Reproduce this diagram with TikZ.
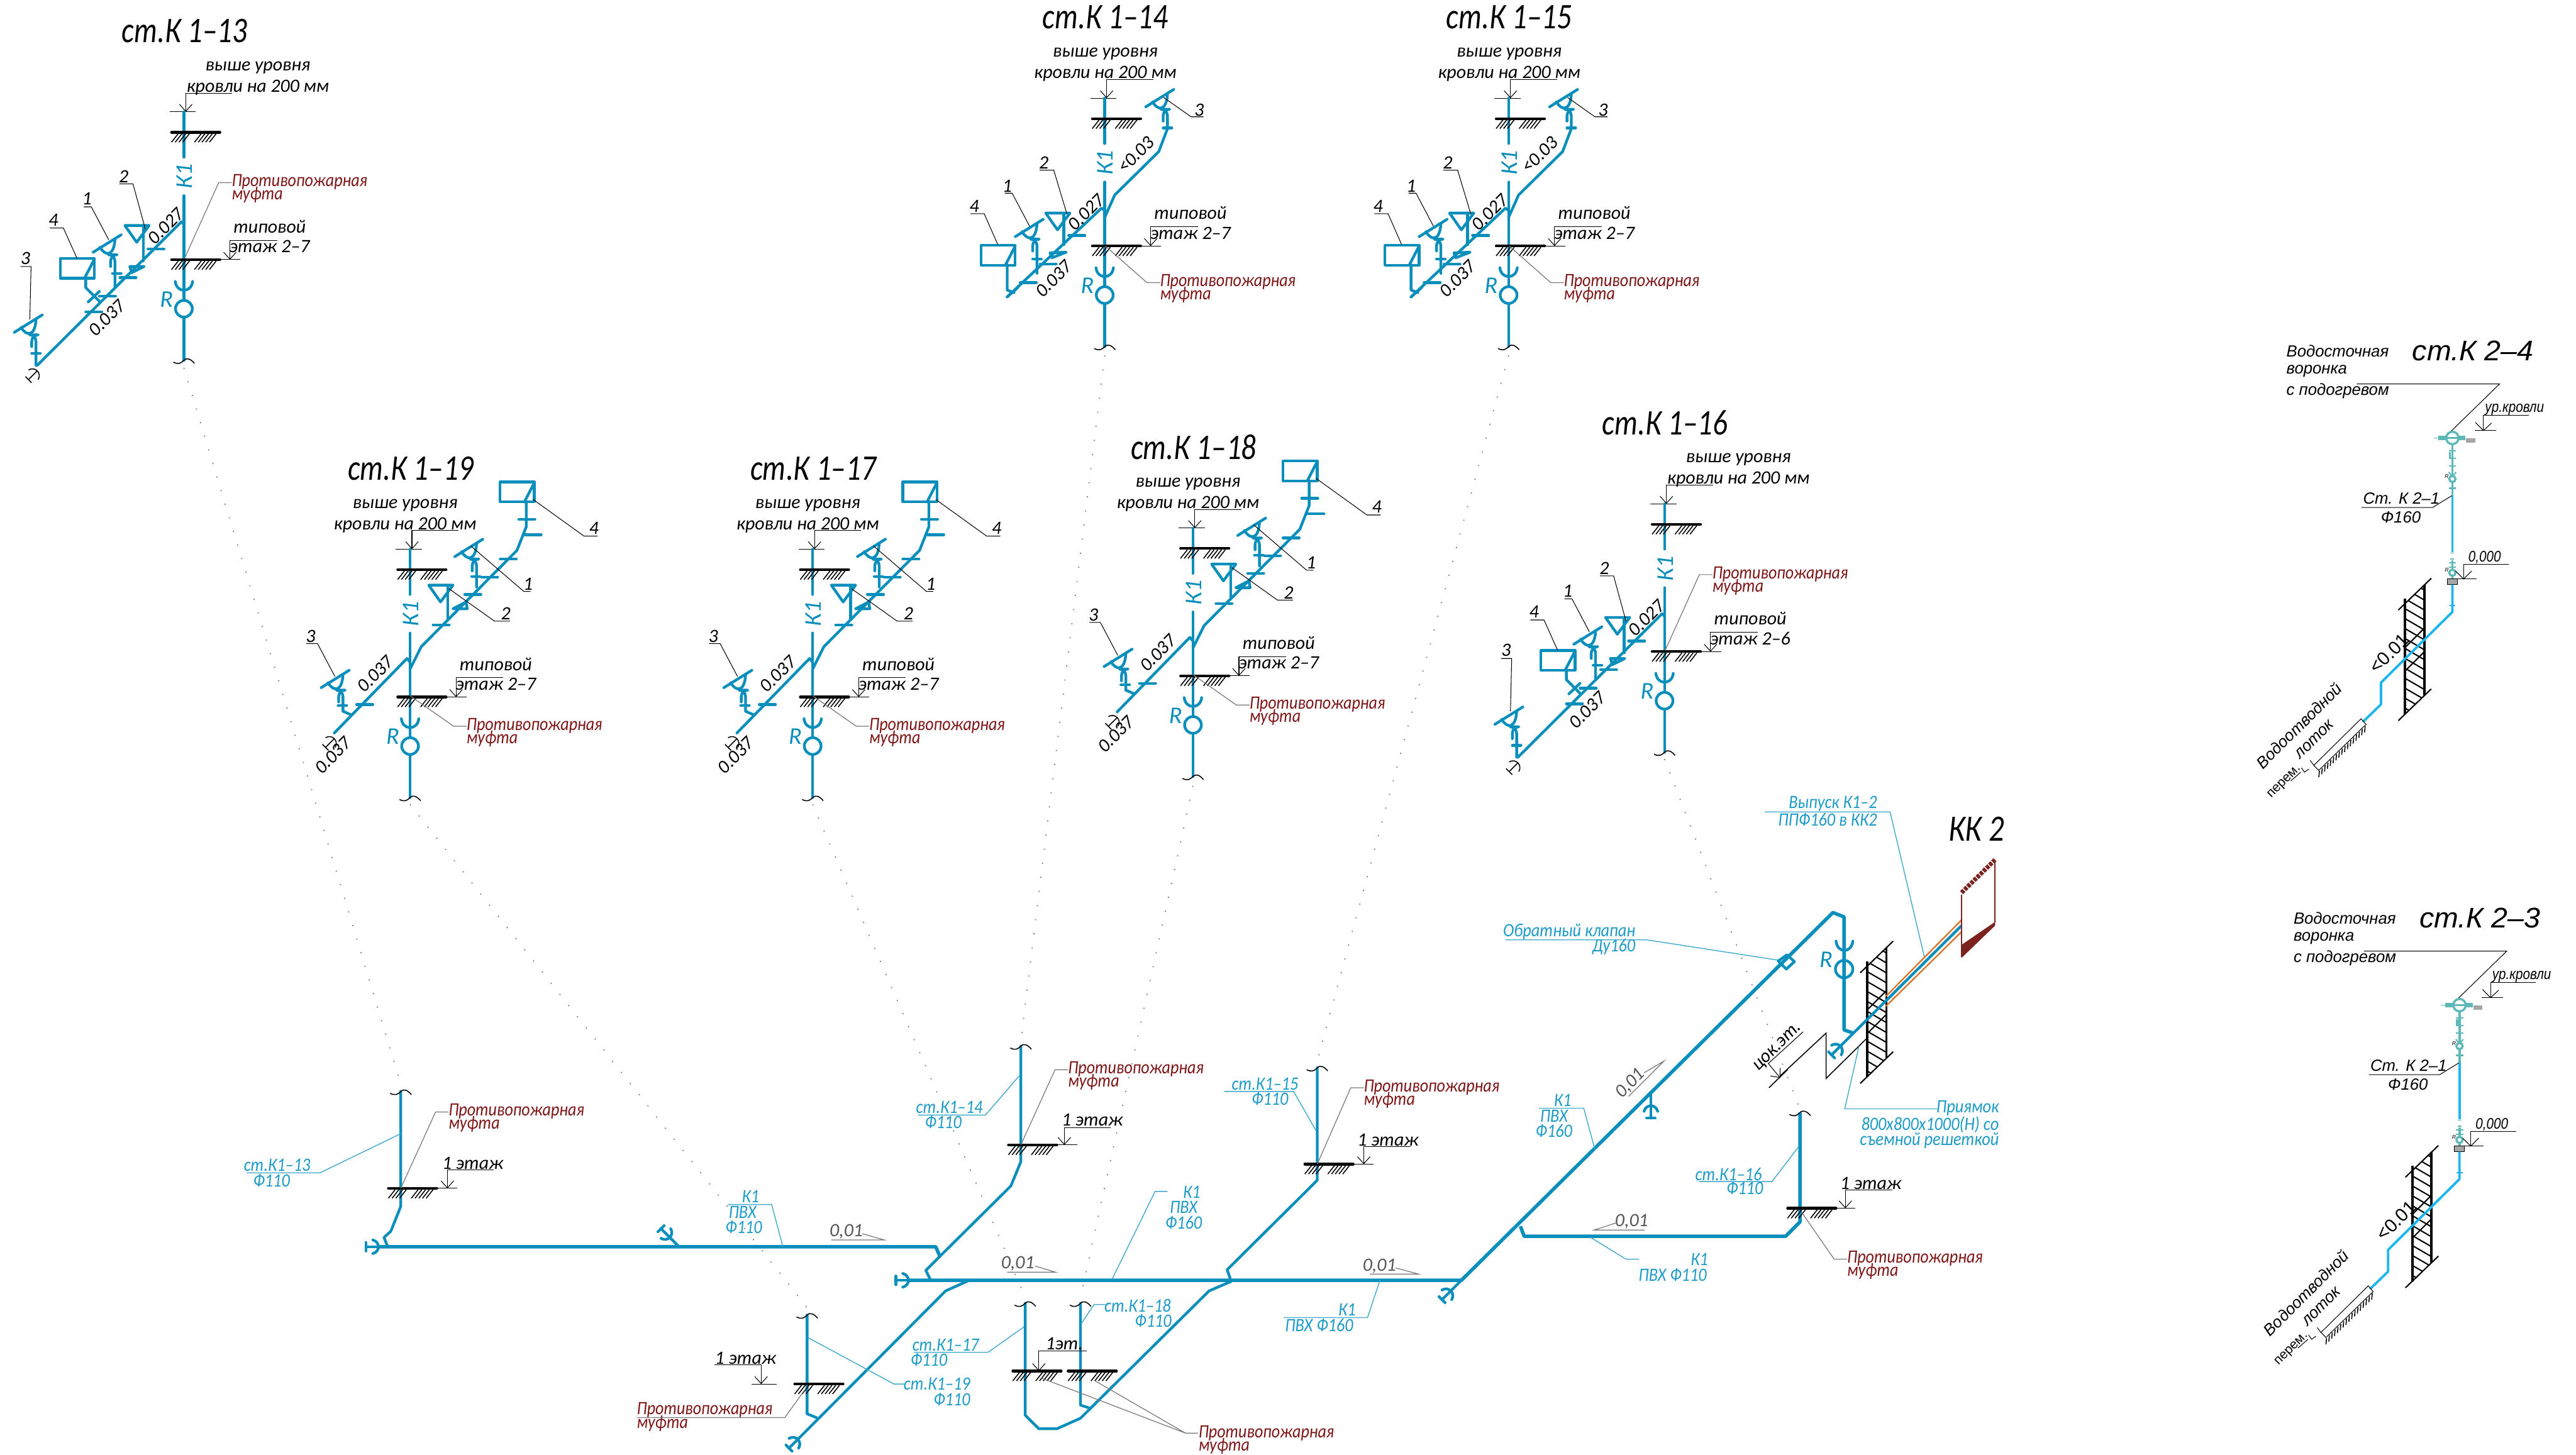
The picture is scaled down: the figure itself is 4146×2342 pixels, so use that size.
\documentclass[tikz,border=0pt]{standalone}
\usepackage{fontspec}
\setmainfont{Carlito}
\newfontfamily\widefont{Liberation Sans}
\usetikzlibrary{arrows.meta}

\definecolor{pipeblue}{HTML}{0A8FBD}
\definecolor{labelblue}{HTML}{1C9AC8}
\definecolor{leaderblue}{HTML}{3FA9CC}
\definecolor{fireRed}{HTML}{7F1416}
\definecolor{cyanpipe}{HTML}{1CB5F0}
\definecolor{tealpipe}{HTML}{5DB8B8}
\definecolor{brickRed}{HTML}{7B241F}
\definecolor{orangeline}{HTML}{D9792F}
\definecolor{grayline}{HTML}{777777}
\definecolor{numgray}{HTML}{555555}

% floor slab with ground hatch
\newcommand{\Slab}[2]{%
	\begin{scope}[shift={(#1,#2)}]
		\draw[SlabLine] (-20,0) -- (58,0);
		\foreach \h in {-20,-14,-8,-2,17,23,29,35,41} {\draw[Hair] (\h,16) -- (\h+11,2);}
	\end{scope}}
\newcommand{\Wave}[2]{%
	\begin{scope}[shift={(#1,#2)}]
		\draw[Hair] (-17,3) .. controls (-9,7) and (-5,5) .. (0,0) .. controls (5,-5) and (11,-2) .. (17,5);
	\end{scope}}
\newcommand{\Socket}[3][Pipe]{%
	\begin{scope}[shift={(#2,#3)}]
		\draw[#1] (-14,0) .. controls (-12,19) and (12,19) .. (14,0);
	\end{scope}}
\newcommand{\Cleanout}[4]{%
	\begin{scope}[shift={(#1,#2)},rotate=#3]
		\draw[#4] (-9,-11) .. controls (3,-8) and (3,8) .. (-9,11);
		\draw[#4] (0,0) -- (-20,0);
		\draw[#4] (-20,-7) -- (-20,7);
	\end{scope}}
\newcommand{\Tick}[2]{%
	\begin{scope}[shift={(#1,#2)}]
		\draw[Pipe] (-13,0) -- (13,0);
	\end{scope}}
\newcommand{\Nub}[2]{%
	\begin{scope}[shift={(#1,#2)}]
		\draw[Pipe] (-7,0) -- (7,0);
	\end{scope}}
\newcommand{\Funnel}[3]{%
	\begin{scope}[shift={(#1,#2)}]
		\draw[Pipe] (-35,-4) -- (10,-32);
		\draw[Pipe] (-24,-12) .. controls (-16,2) and (-2,4) .. (0,-24);
		\draw[Pipe,rounded corners=3] (-7,19) -- (-7,0) -- (0,0) -- (0,#3);
	\end{scope}}
\newcommand{\Basin}[2]{%
	\begin{scope}[shift={(#1,#2)}]
		\draw[Pipe] (0,0) -- (39,0) -- (19,27) -- cycle;
	\end{scope}}
\newcommand{\Tank}[2]{%
	\begin{scope}[shift={(#1,#2)}]
		\draw[Pipe] (0,0) rectangle (55,32);
		\draw[Pipe] (55,1) -- (39,32);
	\end{scope}}

% riser with roof slab, floor slab and levels
\newcommand{\RiserBase}[6]{%
	\begin{scope}[shift={(#2,#3)}]
		\node[Title] (#1title) at (1,-163) {ст.К 1–#4};
		\node[Note] (#1up) at (#5,-104) {выше уровня};
		\node[Note] (#1roof) at (#5,-72) {кровли на 200 мм};
		\draw[Level] (78,-63) -- (3,-63) -- (3,-33);
		\draw[Thin] (-23,-33) -- (19,-33);
		\draw[Pipe] (0,-33) -- (0,40);
		\draw[Pipe] (0,102) -- (0,270);
		\draw[Pipe] (0,298) -- (0,367);
		\node[Kay,rotate=90] (#1kay) at (1,71) {К1};
		\Slab{0}{0}
		\Slab{0}{205}
		\Socket{0}{240}
		\draw[Pipe] (0,284) circle[radius=13.5];
		\node[Kay] (#1r) at (-28,269) {R};
		\Wave{0}{367}
		\node[Note] (#1typ) at (138,152) {типовой};
		\node[Note] (#1floor) at (138,184) {этаж #6};
		\draw[Level] (150,174) -- (74,174) -- (74,205);
		\draw[Thin] (58,205) -- (91,205);
	\end{scope}}

\newcommand{\BranchA}[3]{%
	\begin{scope}[shift={(#2,#3)}]
		\draw[Pipe] (0,148) -- (-4,144) -- (-236,375);
		\Tick{-45}{188} \Tick{-90}{234} \Tick{-123}{264} \Tick{-145}{289}
		\Nub{-108}{227}
		\Basin{-95}{150}
		\draw[Pipe] (-65,150) -- (-65,207);
		\draw[Pipe] (-87,216) -- (-64,216) -- (-84,226) -- cycle;
		\Funnel{-111}{197}{53}
		\Tank{-199}{203}
		\draw[Pipe] (-158,235) -- (-158,250) -- (-135,273);
		\draw[Pipe] (-154,273) -- (-136,256);
		\Funnel{-238}{326}{49}
		\Nub{-238}{356}
		\Cleanout{-236}{384}{45}{Hair}
		\node[Num] (#1a) at (-156,107) {1};
		\draw[Thin] (-161,120) -- (-149,120) -- (-121,173);
		\node[Num] (#1b) at (-97,71) {2};
		\draw[Thin] (-104,83) -- (-82,83) -- (-62,156);
		\node[Num] (#1c) at (-255,203) {3};
		\draw[Thin] (-263,216) -- (-246,216) -- (-248,301);
		\node[Num] (#1d) at (-210,141) {4};
		\draw[Thin] (-216,154) -- (-194,154) -- (-172,203);
		\node[Num,rotate=45] (#1s) at (-29,151) {0.027};
		\node[Num,rotate=45] (#1t) at (-124,299) {0.037};
	\end{scope}}

\newcommand{\BranchB}[3]{%
	\begin{scope}[shift={(#2,#3)}]
		\draw[Pipe] (0,159) -- (16,123) -- (87,53) -- (101,16);
		\Funnel{101}{-15}{31}
		\Nub{101}{15}
		\node[Num] (#1c) at (152,-14) {3};
		\draw[Thin] (95,-34) -- (139,-3) -- (159,-3);
		\node[Num,rotate=45] (#1u) at (50,58) {<0.03};
		\draw[Pipe] (0,148) -- (-5,144) -- (-157,287);
		\Tick{-45}{188} \Tick{-91}{234} \Tick{-123}{264}
		\Nub{-109}{226}
		\Basin{-95}{152}
		\draw[Pipe] (-66,152) -- (-66,203);
		\draw[Pipe] (-88,216) -- (-62,215) -- (-85,224) -- cycle;
		\Funnel{-109}{194}{55}
		\Tank{-199}{204}
		\draw[Pipe] (-157,235) -- (-157,276) -- (-146,280);
		\draw[Pipe] (-157,287) -- (-140,272);
		\node[Num] (#1a) at (-157,108) {1};
		\draw[Thin] (-161,120) -- (-149,120) -- (-121,173);
		\node[Num] (#1b) at (-98,71) {2};
		\draw[Thin] (-105,83) -- (-82,83) -- (-61,153);
		\node[Num] (#1d) at (-210,141) {4};
		\draw[Thin] (-216,153) -- (-194,153) -- (-172,203);
		\node[Num,rotate=45] (#1s) at (-30,151) {0.027};
		\node[Num,rotate=45] (#1t) at (-82,258) {0.037};
	\end{scope}}

\newcommand{\BranchC}[3]{%
	\begin{scope}[shift={(#2,#3)}]
		\Tank{145}{-141}
		\draw[Pipe] (187,-109) -- (187,-69) -- (172,-31) -- (18,124) -- (0,160);
		\Tick{188}{-81} \Tick{198}{-56} \Tick{158}{-17} \Tick{128}{12} \Tick{101}{40} \Tick{50}{89}
		\Funnel{107}{-17}{45}
		\Nub{106}{11}
		\Basin{30}{25}
		\draw[Pipe] (61,25) -- (61,79);
		\draw[Pipe] (69,63) -- (92,63) -- (90,52) -- cycle;
		\node[Num] (#1a) at (190,23) {1};
		\draw[Thin] (98,-38) -- (183,35) -- (194,35);
		\node[Num] (#1b) at (154,71) {2};
		\draw[Thin] (63,31) -- (136,83) -- (161,83);
		\node[Num] (#1d) at (296,-67) {4};
		\draw[Thin] (198,-113) -- (280,-54) -- (302,-54);
		\draw[Pipe] (0,149) -- (-5,143) -- (-122,263);
		\Tick{-73}{217}
		\Funnel{-108}{194}{34}
		\draw[Pipe] (-108,228) -- (-94,234);
		\Nub{-109}{219}
		\node[Num] (#1c) at (-160,107) {3};
		\draw[Thin] (-167,119) -- (-149,119) -- (-121,172);
		\Cleanout{-122}{272}{45}{Hair}
		\node[Num,rotate=45] (#1s) at (-56,168) {0.037};
		\node[Num,rotate=45] (#1t) at (-124,299) {0.037};
	\end{scope}}

\newcommand{\FireLabel}[5]{%
	\node[Fire,anchor=west] (#1top) at (#2,#3) {Противопожарная};
	\node[Fire,anchor=west] (#1low) at (#2,#3+21) {муфта};
	\draw[Gray] (#4,#5) -- (#2-21,#3+1) -- (#2,#3+1);}

\newcommand{\WallCut}[3]{%
	\begin{scope}[shift={(#2,#3)}]
		\begin{scope}
			\clip (0,0) -- (31,-31) -- (31,147) -- (0,178) -- cycle;
			\foreach \k in {-40,-24,...,190} {\draw[HatchLine] (0,\k) -- (31,\k+18);}
			\draw[HatchLine] (0,70) -- (31,39);
			\draw[HatchLine] (0,108) -- (31,77);
		\end{scope}
		\draw[WallLine] (0,-8) -- (0,178);
		\draw[WallLine] (31,-31) -- (31,147);
		\draw[HatchLine] (-11,10) -- (42,-41);
		\draw[HatchLine] (-11,188) -- (42,137);
	\end{scope}}

% rain water riser, drawn at the place of st.K2-4
\newcommand{\RainStack}[4]{%
	\begin{scope}[shift={(#2,#3)}]
		\node[KTitle] (#1title) at (3980,565) {ст.К 2–#4};
		\node[KNote,anchor=west] (#1fa) at (3680,565) {Водосточная};
		\node[KNote,anchor=west] (#1fb) at (3680,597) {воронка};
		\node[KNote,anchor=west] (#1fc) at (3680,629) {с подогревом};
		\draw[Thin] (3793,618) -- (4023,618) -- (3943,696);
		\node[KSmall] (#1roof) at (4047,659) {ур.кровли};
		\draw[Thin] (4070,669) -- (3997,669) -- (3997,693);
		\draw[Thin] (3983,693) -- (4017,693);
		\draw[Thin] (3984,680) -- (3997,693) -- (4010,681);
		\draw[TealPipe,line width=1.8pt] (3924,705) -- (3968,705);
		\draw[tealpipe,line width=.5pt] (3917,705) -- (3924,705);
		\fill[gray!70] (3969,705) rectangle (3984,713);
		\draw[TealPipe,fill=white] (3947,705) ellipse[x radius=10,y radius=10];
		\draw[TealPipe] (3937,705) -- (3957,705);
		\draw[TealPipe] (3947,715) -- (3947,798);
		\foreach \q in {726,738,750,786} {\draw[TealPipe,line width=.6pt] (3941,\q) -- (3953,\q);}
		\draw[TealPipe] (3943,728) -- (3943,737);
		\draw[TealPipe,line width=.6pt] (3941,760) -- (3947,767) -- (3953,760);
		\draw[TealPipe,fill=white] (3947,771) circle[radius=5];
		\node[KTiny] (#1ra) at (3938,767) {R};
		\draw[CyanPipe] (3947,798) -- (3947,889);
		\node[KNote] (#1st) at (3865,802) {Ст. К 2–1};
		\node[KNote] (#1dia) at (3864,833) {Ф160};
		\draw[Thin] (3801,817) -- (3915,817) -- (3946,798);
		\draw[tealpipe,line width=.4pt] (3944,890) -- (3950,890);
		\draw[tealpipe,line width=.4pt] (3944,900) -- (3950,900);
		\draw[TealPipe] (3947,902) -- (3947,932);
		\foreach \q in {906,913} {\draw[TealPipe,line width=.6pt] (3941,\q) -- (3953,\q);}
		\draw[TealPipe,fill=white] (3947,922) circle[radius=5];
		\node[KTiny] (#1rb) at (3938,918) {R};
		\fill[gray!70] (3939,932) rectangle (3955,941);
		\draw[black,line width=.3pt] (3939,932) rectangle (3955,941);
		\node[KSmall] (#1zero) at (3999,897) {0,000};
		\draw[Thin] (4038,908) -- (3965,908) -- (3965,932);
		\draw[Thin] (3955,932) -- (3986,932);
		\draw[Thin] (3952,919) -- (3965,932) -- (3978,919);
		\WallCut{#1wall}{3871}{972}
		\draw[CyanPipe] (3947,941) -- (3947,985) -- (3832,1099) -- (3832,1134) -- (3803,1162);
		\draw[CyanPipe,line width=.6pt] (3942,975) -- (3952,975);
		\node[KNote,rotate=45,font=\widefont\fontsize{8.5}{9}\selectfont] (#1slope) at (3845,1052) {<0.01};
		\node[KNote,rotate=45] (#1tra) at (3700,1168) {Водоотводной};
		\node[KNote,rotate=45] (#1trb) at (3725,1190) {лоток};
		\node[KTiny,rotate=45,font=\widefont\fontsize{6}{7}\selectfont] (#1per) at (3677,1259) {перем.};
		\draw[Thin] (3724,1232) -- (3800,1157) -- (3808,1166) -- (3732,1240) -- cycle;
		\draw[Thin] (3718,1224) -- (3724,1232);
		\draw[Thin] (3687,1257) -- (3703,1243);
		\draw[Thin] (3704,1236) -- (3709,1243) -- (3716,1238);
		\foreach \t in {0,...,16} {\draw[Hair] ({3733+\t*4.6},{1241-\t*4.5}) -- ({3732+\t*4.6},{1251-\t*4.5});}
	\end{scope}}

\begin{document}
\begin{tikzpicture}
	[
		x=0.01cm,
		y=-0.01cm,
		every node/.style={inner sep=0pt,outer sep=0pt}
	]

	\tikzstyle{Pipe} = [draw=pipeblue, line width=1.25pt, line join=round, line cap=round]
	\tikzstyle{MainPipe} = [draw=pipeblue, line width=1.6pt, line join=round]
	\tikzstyle{CyanPipe} = [draw=cyanpipe, line width=1.1pt, line join=round]
	\tikzstyle{TealPipe} = [draw=tealpipe, line width=1pt]
	\tikzstyle{SlabLine} = [draw=black, line width=1.2pt, line cap=round]
	\tikzstyle{WallLine} = [draw=black, line width=1.1pt]
	\tikzstyle{HatchLine} = [draw=black, line width=.6pt]
	\tikzstyle{Hair} = [draw=black, line width=.45pt]
	\tikzstyle{Thin} = [draw=black, line width=.3pt]
	\tikzstyle{Level} = [draw=black, line width=.3pt, -{Straight Barb[length=3.2pt,width=5.8pt]}]
	\tikzstyle{Gray} = [draw=grayline, line width=.35pt]
	\tikzstyle{BlueLead} = [draw=leaderblue, line width=.4pt]
	\tikzstyle{Dots} = [draw=grayline, line width=.5pt, dash pattern=on .5pt off 6pt]
	\tikzstyle{Title} = [font=\itshape\fontsize{16.5}{18}\selectfont, xscale=.82, transform shape]
	\tikzstyle{Note} = [font=\itshape\fontsize{8.6}{10}\selectfont]
	\tikzstyle{Num} = [font=\itshape\fontsize{8.6}{10}\selectfont]
	\tikzstyle{Kay} = [font=\itshape\fontsize{11}{12}\selectfont, text=pipeblue]
	\tikzstyle{Fire} = [font=\itshape\fontsize{8.6}{10}\selectfont, text=fireRed, xscale=.87, transform shape]
	\tikzstyle{Blue} = [font=\itshape\fontsize{8.6}{10}\selectfont, text=labelblue, xscale=.88, transform shape]
	\tikzstyle{Slope} = [font=\itshape\fontsize{8.6}{10}\selectfont, text=numgray]
	\tikzstyle{KTitle} = [font=\widefont\itshape\fontsize{13}{14}\selectfont, xscale=1.03, transform shape]
	\tikzstyle{KNote} = [font=\widefont\itshape\fontsize{7.4}{9}\selectfont]
	\tikzstyle{KSmall} = [font=\widefont\itshape\fontsize{7}{8}\selectfont, xscale=.85, transform shape]
	\tikzstyle{KTiny} = [font=\widefont\itshape\fontsize{2.5}{3}\selectfont]

	\useasboundingbox (0,0) rectangle (4146,2342);

	% dotted links from the stacks to the plan
	\draw[Dots] (296,592) -- (645,1745);
	\draw[Dots] (660,1295) -- (1299,2105);
	\draw[Dots] (1308,1295) -- (1650,2088);
	\draw[Dots] (1920,1265) -- (1739,2088);
	\draw[Dots] (1778,572) -- (1643,1675);
	\draw[Dots] (2428,572) -- (2120,1708);
	\draw[Dots] (2679,1222) -- (2895,1780);

	% stacks
	\RiserBase{sa}{296}{213}{13}{119}{2–7}
	\BranchA{sa}{296}{213}
	\FireLabel{sa}{373}{293}{297}{416}

	\RiserBase{sb}{2679}{844}{16}{119}{2–6}
	\BranchA{sb}{2679}{844}
	\FireLabel{sb}{2756}{924}{2680}{1047}

	\RiserBase{sc}{1778}{191}{14}{1}{2–7}
	\BranchB{sc}{1778}{191}
	\FireLabel{sc}{1867}{454}{1779}{396}

	\RiserBase{sd}{2428}{191}{15}{1}{2–7}
	\BranchB{sd}{2428}{191}
	\FireLabel{sd}{2517}{454}{2429}{396}

	\RiserBase{se}{660}{917}{19}{-8}{2–7}
	\BranchC{se}{660}{917}
	\FireLabel{se}{751}{1168}{660}{1120}

	\RiserBase{sf}{1308}{917}{17}{-8}{2–7}
	\BranchC{sf}{1308}{917}
	\FireLabel{sf}{1399}{1168}{1308}{1120}

	\RiserBase{sg}{1920}{883}{18}{-8}{2–7}
	\BranchC{sg}{1920}{883}
	\FireLabel{sg}{2011}{1134}{1920}{1086}

	% plan: branch K1 F110
	\draw[Pipe] (645,1757) -- (645,1942) -- (629,1982) -- (618,1992) -- (624,2007);
	\draw[MainPipe] (609,2007) -- (1506,2007) -- (1513,2023);
	\draw[Pipe] (1093,2007) -- (1078,1992);
	\Cleanout{1078}{1992}{-45}{Pipe}
	\Cleanout{609}{2007}{0}{Pipe}
	\Wave{645}{1757}
	\Slab{645}{1913}
	\draw[Level] (795,1883) -- (720,1883) -- (720,1913);
	\draw[Thin] (702,1913) -- (736,1913);
	\node[Note] (flooraa) at (761,1873) {1 этаж};
	\FireLabel{pa}{722}{1789}{645}{1913}
	\node[Blue] (sta) at (446,1876) {ст.К1–13};
	\node[Blue] (sta2) at (437,1900) {Ф110};
	\draw[BlueLead] (397,1888) -- (515,1888) -- (645,1825);
	\node[Blue] (ka) at (1208,1926) {К1};
	\node[Blue] (ka2) at (1195,1951) {ПВХ};
	\node[Blue] (ka3) at (1197,1975) {Ф110};
	\draw[BlueLead] (1171,1939) -- (1242,1939) -- (1260,2007);
	\node[Slope] (ra) at (1362,1983) {0,01};
	\draw[Gray] (1338,1996) -- (1423,1996) -- (1388,1986);

	% plan: riser st.K1-14
	\draw[Pipe] (1643,1684) -- (1643,1870) -- (1627,1909) -- (1490,2045) -- (1498,2061);
	\Wave{1643}{1684}
	\Slab{1643}{1843}
	\draw[Level] (1788,1815) -- (1713,1815) -- (1713,1843);
	\draw[Thin] (1700,1843) -- (1734,1843);
	\node[Note] (floorb) at (1758,1803) {1 этаж};
	\FireLabel{pb}{1719}{1721}{1643}{1843}
	\node[Blue] (stb) at (1528,1782) {ст.К1–14};
	\node[Blue] (stb2) at (1518,1806) {Ф110};
	\draw[BlueLead] (1478,1795) -- (1586,1795) -- (1642,1730);

	% plan: main K1 F160
	\draw[MainPipe] (1462,2061) -- (2352,2061) -- (2950,1469) -- (2968,1476) -- (2968,1658) -- (2983,1663);
	\Cleanout{1462}{2061}{0}{Pipe}
	\node[Slope] (rb) at (1638,2034) {0,01};
	\draw[Gray] (1621,2048) -- (1699,2048) -- (1666,2038);
	\node[Blue] (kb) at (1918,1919) {К1};
	\node[Blue] (kb2) at (1905,1943) {ПВХ};
	\node[Blue] (kb3) at (1905,1968) {Ф160};
	\draw[BlueLead] (1790,2059) -- (1859,1918) -- (1879,1918);

	% plan: riser st.K1-15
	\draw[Pipe] (2120,1719) -- (2120,1900) -- (1975,2044) -- (1981,2061);
	\Wave{2120}{1719}
	\Slab{2120}{1874}
	\draw[Level] (2270,1846) -- (2195,1846) -- (2195,1874);
	\draw[Thin] (2177,1874) -- (2211,1874);
	\node[Note] (floorc) at (2234,1835) {1 этаж};
	\FireLabel{pc}{2195}{1750}{2120}{1874}
	\node[Blue] (stc) at (2036,1745) {ст.К1–15};
	\node[Blue] (stc2) at (2044,1769) {Ф110};
	\draw[BlueLead] (1970,1757) -- (2082,1757) -- (2118,1820);
	\node[Slope] (rc) at (2220,2038) {0,01};
	\draw[Gray] (2205,2051) -- (2283,2051) -- (2246,2041);
	\node[Blue] (kc) at (2168,2108) {К1};
	\node[Blue] (kc2) at (2123,2133) {ПВХ Ф160};
	\draw[BlueLead] (2221,2061) -- (2201,2121) -- (2066,2121);

	% plan: risers below the main line
	\draw[Pipe] (1560,2061) -- (1522,2078) -- (1284,2317);
	\Cleanout{1284}{2317}{45}{Pipe}
	\draw[Pipe] (1299,2117) -- (1299,2276) -- (1314,2282);
	\Wave{1299}{2117}
	\Slab{1299}{2228}
	\draw[Level] (1150,2197) -- (1225,2197) -- (1225,2228);
	\draw[Thin] (1210,2228) -- (1250,2228);
	\node[Note] (floord) at (1200,2186) {1 этаж};
	\node[Fire,anchor=west] (pdtop) at (1025,2270) {Противопожарная};
	\node[Fire,anchor=west] (pdlow) at (1025,2291) {муфта};
	\draw[Gray] (1025,2282) -- (1263,2282) -- (1294,2239);
	\node[Blue] (std) at (1508,2228) {ст.К1–19};
	\node[Blue] (std2) at (1532,2253) {Ф110};
	\draw[BlueLead] (1300,2153) -- (1439,2228) -- (1458,2228);

	\draw[Pipe] (1981,2063) -- (1946,2078) -- (1739,2283) -- (1701,2300) -- (1672,2300) -- (1650,2278) -- (1650,2098);
	\draw[Pipe] (1739,2098) -- (1739,2262) -- (1755,2267);
	\Wave{1650}{2098}
	\Wave{1739}{2098}
	\Slab{1650}{2207}
	\Slab{1739}{2207}
	\draw[Level] (1749,2175) -- (1672,2175) -- (1672,2207);
	\node[Note] (floore) at (1713,2163) {1эт.};
	\node[Blue] (ste) at (1522,2165) {ст.К1–17};
	\node[Blue] (ste2) at (1495,2189) {Ф110};
	\draw[BlueLead] (1471,2177) -- (1590,2177) -- (1648,2136);
	\node[Blue] (stf) at (1831,2102) {ст.К1–18};
	\node[Blue] (stf2) at (1856,2126) {Ф110};
	\draw[BlueLead] (1740,2131) -- (1761,2100) -- (1784,2100);
	\node[Fire,anchor=west] (petop) at (1929,2307) {Противопожарная};
	\node[Fire,anchor=west] (pelow) at (1929,2328) {муфта};
	\draw[Gray] (1928,2307) -- (1908,2307) -- (1675,2218);
	\draw[Gray] (1908,2307) -- (1761,2222);

	% plan: last stretch to the outlet
	\draw[Pipe] (2352,2061) -- (2335,2078);
	\Cleanout{2335}{2078}{45}{Pipe}
	\draw[Pipe] (2657,1763) -- (2657,1780);
	\Cleanout{2657}{1780}{90}{Pipe}
	\node[Slope,rotate=45] (rd) at (2624,1744) {0,01};
	\draw[Gray] (2621,1765) -- (2678,1708) -- (2646,1727);
	\node[Blue] (kd) at (2515,1771) {К1};
	\node[Blue] (kd2) at (2501,1797) {ПВХ};
	\node[Blue] (kd3) at (2501,1820) {Ф160};
	\draw[BlueLead] (2477,1784) -- (2549,1784) -- (2567,1851);
	\node[Blue,anchor=east] (valve) at (2632,1500) {Обратный клапан};
	\node[Blue,anchor=east] (valve2) at (2632,1524) {Ду160};
	\draw[BlueLead] (2423,1513) -- (2651,1513) -- (2864,1546);
	\draw[Pipe] (2862,1547) -- (2876,1537) -- (2888,1548) -- (2875,1560) -- cycle;
	\draw[Pipe] (2955,1515) .. controls (2957,1535) and (2980,1535) .. (2982,1515);
	\draw[Pipe] (2968,1560) circle[radius=14];
	\node[Kay] (rf) at (2939,1545) {R};

	% plan: branch to st.K1-16
	\draw[MainPipe] (2447,1974) -- (2453,1990) -- (2874,1990) -- (2897,1967) -- (2897,1791);
	\Wave{2897}{1791}
	\Slab{2897}{1945}
	\draw[Level] (3046,1916) -- (2970,1916) -- (2970,1945);
	\draw[Thin] (2953,1945) -- (2986,1945);
	\node[Note] (floorg) at (3011,1905) {1 этаж};
	\FireLabel{pg}{2973}{2026}{2900}{1952}
	\node[Blue] (stg) at (2782,1890) {ст.К1–16};
	\node[Blue] (stg2) at (2808,1913) {Ф110};
	\draw[BlueLead] (2735,1902) -- (2852,1902) -- (2894,1847);
	\node[Blue] (kg) at (2735,2027) {К1};
	\node[Blue] (kg2) at (2692,2052) {ПВХ Ф110};
	\draw[BlueLead] (2560,1992) -- (2617,2027) -- (2638,2027);
	\node[Slope] (rg) at (2626,1966) {0,01};
	\draw[Gray] (2647,1980) -- (2566,1980) -- (2603,1968);

	% outlet through the wall
	\draw[Hair] (2847,1751) -- (2877,1722);
	\draw[Hair] (2865,1732) -- (2939,1663) -- (2939,1736) -- (3005,1671);
	\WallCut{wall}{3005}{1556}
	\draw[orangeline,line width=.7pt] (3035,1604) -- (3157,1481);
	\draw[orangeline,line width=.7pt] (3035,1620) -- (3157,1500);
	\draw[Pipe] (3156,1491) -- (2962,1684);
	\Cleanout{2962}{1684}{45}{Pipe}
	\node[Note,rotate=45] (base) at (2862,1686) {цок.эт.};
	\draw[Level] (2902,1661) -- (2846,1712) -- (2865,1735);

	% manhole
	\draw[brickRed,line width=.5pt] (3157,1440) -- (3157,1541);
	\draw[brickRed,line width=.5pt] (3211,1385) -- (3211,1485);
	\fill[brickRed] (3157,1521) -- (3211,1484) -- (3211,1490) -- (3157,1542) -- cycle;
	\draw[brickRed,line width=2pt,dash pattern=on 1.5pt off .5pt] (3157,1437) -- (3212,1383);
	\node[Title,font=\itshape\fontsize{17}{18}\selectfont] (kk) at (3181,1334) {КК 2};
	\node[Blue,anchor=east] (out) at (3021,1294) {Выпуск К1–2};
	\node[Blue,anchor=east] (out2) at (3021,1319) {ППФ160 в КК2};
	\draw[BlueLead] (2840,1307) -- (3042,1307) -- (3097,1540);
	\node[Blue,anchor=east] (pit) at (3217,1784) {Приямок};
	\node[Blue,anchor=east] (pit2) at (3217,1810) {800х800х1000(Н) со};
	\node[Blue,anchor=east] (pit3) at (3217,1836) {съемной решеткой};
	\draw[BlueLead] (3118,1785) -- (2969,1785) -- (2992,1684);

	% rain water risers
	\RainStack{ra}{0}{0}{4}
	\RainStack{rb}{11.5}{913}{3}
\end{tikzpicture}
\end{document}
